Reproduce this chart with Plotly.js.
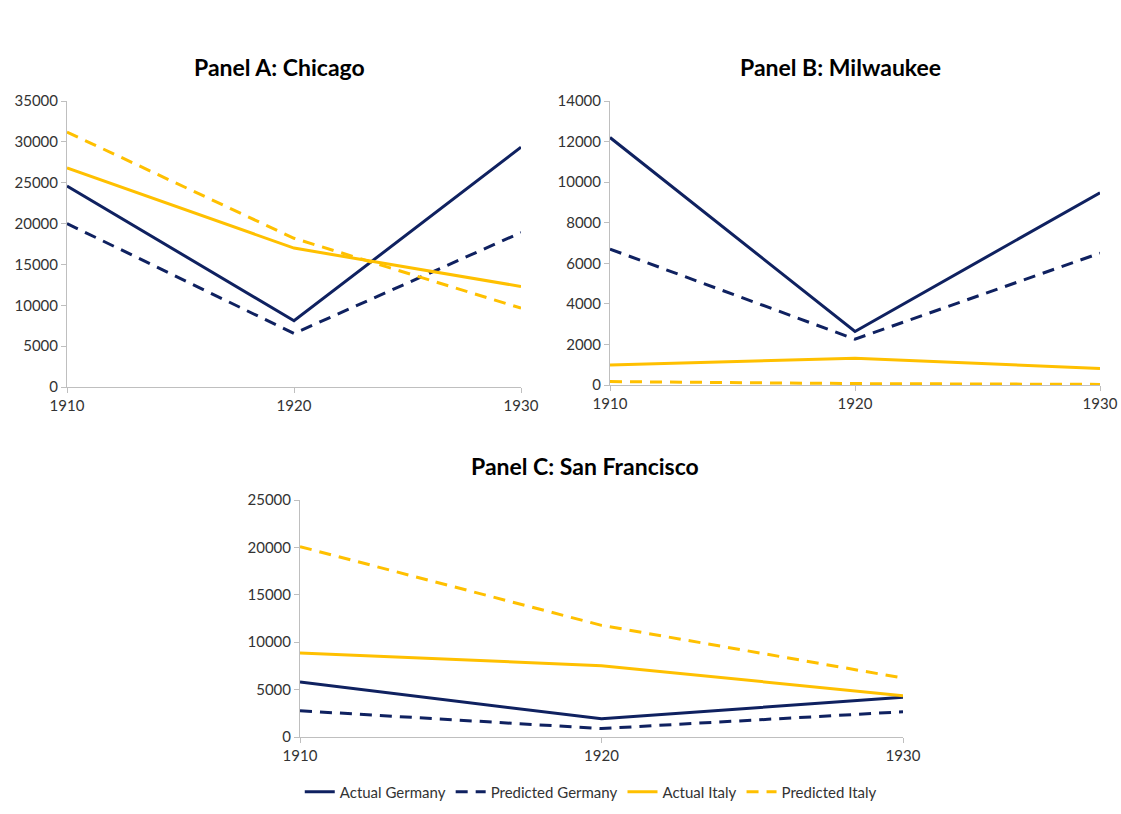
<!DOCTYPE html>
<html>
<head>
<meta charset="utf-8">
<script src="https://cdn.plot.ly/plotly-3.0.1.min.js"></script>
<style>html,body{margin:0;padding:0;background:#fff;}#chart{width:1121px;height:814px;}</style>
</head>
<body>
<div id="chart"></div>
<script>
// ---- Data ----
const years = [1910, 1920, 1930];
const seriesNames = ["Actual Germany", "Predicted Germany", "Actual Italy", "Predicted Italy"];
const panelTitles = ["Panel A: Chicago", "Panel B: Milwaukee", "Panel C: San Francisco"];

const chicagoActualGermany    = [24600, 8100, 29350];
const chicagoPredictedGermany = [20000, 6550, 18900];
const chicagoActualItaly      = [26800, 17000, 12300];
const chicagoPredictedItaly   = [31200, 18200, 9650];

const milwaukeeActualGermany    = [12200, 2640, 9480];
const milwaukeePredictedGermany = [6700, 2260, 6500];
const milwaukeeActualItaly      = [990, 1320, 810];
const milwaukeePredictedItaly   = [170, 70, 30];

const sfActualGermany    = [5800, 1920, 4200];
const sfPredictedGermany = [2770, 890, 2660];
const sfActualItaly      = [8870, 7520, 4360];
const sfPredictedItaly   = [20080, 11780, 6220];

const yMax = [35000, 14000, 25000];
const yStep = [5000, 2000, 5000];

// ---- Styles ----
const NAVY = "#0f2160";
const GOLD = "#ffc000";
const FONT = "Lato, 'Open Sans', sans-serif";
const styles = [
  {color: NAVY, dash: "solid"},
  {color: NAVY, dash: "12px,8px"},
  {color: GOLD, dash: "solid"},
  {color: GOLD, dash: "12px,8px"}
];

const panels = [
  [chicagoActualGermany, chicagoPredictedGermany, chicagoActualItaly, chicagoPredictedItaly],
  [milwaukeeActualGermany, milwaukeePredictedGermany, milwaukeeActualItaly, milwaukeePredictedItaly],
  [sfActualGermany, sfPredictedGermany, sfActualItaly, sfPredictedItaly]
];

const traces = [];
panels.forEach((p, pi) => {
  p.forEach((vals, si) => {
    traces.push({
      x: years, y: vals, type: "scatter", mode: "lines",
      name: seriesNames[si],
      xaxis: pi === 0 ? "x" : "x" + (pi + 1),
      yaxis: pi === 0 ? "y" : "y" + (pi + 1),
      line: {color: styles[si].color, dash: styles[si].dash, width: 3},
      showlegend: pi === 2,
      cliponaxis: false
    });
  });
});

const W = 1121, H = 814;
function dx(a, b) { return [a / W, b / W]; }
function dy(top, bottom) { return [(H - bottom) / H, (H - top) / H]; }

const TICKFONT = {family: FONT, size: 15, color: "#333333"};

function xax(dom, anchor) {
  return {
    domain: dom, anchor: anchor, range: [1910, 1930], tickvals: years,
    showline: true, linecolor: "#bfbfbf", linewidth: 1,
    ticks: "outside", ticklen: 5, tickcolor: "#bfbfbf",
    showgrid: false, zeroline: false,
    tickfont: TICKFONT
  };
}
function yax(dom, anchor, max, step) {
  return {
    domain: dom, anchor: anchor, range: [0, max], dtick: step, tick0: 0,
    showline: true, linecolor: "#bfbfbf", linewidth: 1,
    ticks: "outside", ticklen: 5, tickcolor: "#bfbfbf",
    showgrid: false, zeroline: false, tickformat: "d",
    tickfont: TICKFONT
  };
}

const layout = {
  width: W, height: H,
  margin: {l: 0, r: 0, t: 0, b: 0},
  paper_bgcolor: "#fff", plot_bgcolor: "#fff",
  showlegend: true,
  legend: {
    orientation: "h", x: 0.527, xanchor: "center", y: 22 / H, yanchor: "middle",
    font: {family: FONT, size: 15, color: "#333333"},
    itemwidth: 30, tracegroupgap: 0, bgcolor: "rgba(0,0,0,0)"
  },
  xaxis: xax(dx(67, 521), "y"),
  yaxis: yax(dy(101, 387), "x", yMax[0], yStep[0]),
  xaxis2: xax(dx(610, 1100), "y2"),
  yaxis2: yax(dy(101, 385), "x2", yMax[1], yStep[1]),
  xaxis3: xax(dx(300, 903), "y3"),
  yaxis3: yax(dy(500, 737), "x3", yMax[2], yStep[2]),
  annotations: [
    {text: "<b>" + panelTitles[0] + "</b>", x: 279 / W, y: (H - 67) / H},
    {text: "<b>" + panelTitles[1] + "</b>", x: 840 / W, y: (H - 67) / H},
    {text: "<b>" + panelTitles[2] + "</b>", x: 585 / W, y: (H - 466) / H}
  ].map(a => Object.assign(a, {
    xref: "paper", yref: "paper", xanchor: "center", yanchor: "middle",
    showarrow: false, font: {family: FONT, size: 23, color: "#000"}
  }))
};

Plotly.newPlot("chart", traces, layout, {displayModeBar: false, staticPlot: true});
</script>
</body>
</html>
